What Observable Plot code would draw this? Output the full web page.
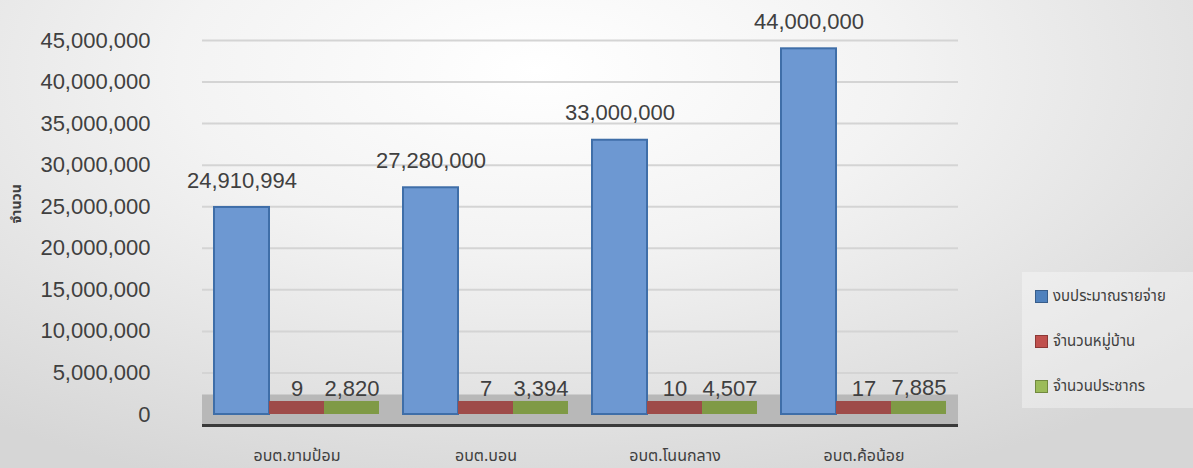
<!DOCTYPE html>
<html>
<head>
<meta charset="utf-8">
<script src="https://cdn.jsdelivr.net/npm/d3@7"></script>
<script src="https://cdn.jsdelivr.net/npm/@observablehq/plot@0.6"></script>
<style>
  html, body { margin: 0; padding: 0; }
  body {
    width: 1193px; height: 468px; overflow: hidden; position: relative;
    background: radial-gradient(ellipse 75% 95% at 45% 15%, #ffffff 0%, #f3f3f3 40%, #d6d6d6 100%);
    font-family: "Noto Sans Thai", "Liberation Sans", "DejaVu Sans", sans-serif;
  }
  #chart { position: absolute; left: 0; top: 0; }
  #legend {
    position: absolute; left: 1022px; top: 272px; width: 171px; height: 136px;
    background: rgba(255,255,255,0.35);
  }
  .item { position: absolute; left: 13px; display: flex; align-items: center; font-size: 15px; color: #404040; }
  .sw { width: 11px; height: 11px; margin-right: 5px; border: 1px solid; }
</style>
</head>
<body>
<div id="chart"></div>
<div id="legend"></div>
<script>
const categories = ["อบต.ขามป้อม", "อบต.บอน", "อบต.โนนกลาง", "อบต.ค้อน้อย"];
const seriesNames = ["งบประมาณรายจ่าย", "จำนวนหมู่บ้าน", "จำนวนประชากร"];
const budget = [24910994, 27280000, 33000000, 44000000];
const villages = [9, 7, 10, 17];
const population = [2820, 3394, 4507, 7885];
const yTicks = [0, 5000000, 10000000, 15000000, 20000000, 25000000, 30000000, 35000000, 40000000, 45000000];
const yTitle = "จำนวน";

const fills = ["#6d98d2", "#9e4b49", "#7f9a46"];
const strokes = ["#3f6ea8", "#8c3e3c", "#6f883a"];
const legendFills = ["#4f81bd", "#c0504d", "#9bbb59"];
const legendStrokes = ["#385d8a", "#8c3836", "#71893f"];

const seriesValues = [budget, villages, population];
const data = categories.flatMap((c, i) =>
  seriesNames.map((s, j) => ({cat: c, series: s, value: seriesValues[j][i]}))
);
const fmt = d3.format(",");
const isBudget = d => d.series === seriesNames[0];
const thaiFont = "'Noto Sans Thai', 'Liberation Sans', sans-serif";

const chart = Plot.plot({
  width: 1193,
  height: 468,
  marginLeft: 202,
  marginRight: 235,
  marginTop: 40,
  marginBottom: 54,
  style: {background: "transparent", fontFamily: "'Liberation Sans', 'Noto Sans Thai', sans-serif", fontSize: "22px", color: "#404040", overflow: "visible"},
  fx: {domain: categories, padding: 0},
  x: {domain: seriesNames, paddingInner: 0, paddingOuter: 0.218, axis: null},
  y: {domain: [0, 45000000]},
  color: {domain: seriesNames, range: fills},
  marks: [
    Plot.ruleY(yTicks, {stroke: "#d4d4d4", strokeWidth: 2}),
    Plot.ruleY([0], {stroke: "#b8b8b8", strokeWidth: 30, dy: -5}),
    Plot.ruleY([0], {stroke: "#3a3a3a", strokeWidth: 3, dy: 11}),
    Plot.axisY({ticks: yTicks, tickFormat: fmt, tickSize: 0, tickPadding: 52, label: null, fontSize: 22, fill: "#404040"}),
    Plot.axisFx({anchor: "bottom", tickSize: 0, tickPadding: 35, label: null, fontSize: 16, fill: "#404040", fontFamily: thaiFont}),
    Plot.text([yTitle], {fx: () => categories[0], frameAnchor: "left", dx: -186, dy: -4, rotate: -90, fontSize: 14, fontWeight: "bold", fill: "#404040", fontFamily: thaiFont}),
    Plot.barY(data, {filter: isBudget, fx: "cat", x: "series", y: "value", fill: "series", stroke: strokes[0], strokeWidth: 2}),
    Plot.barY(data, {filter: d => !isBudget(d), fx: "cat", x: "series", y: "value", fill: "series", insetTop: -13}),
    Plot.text(data, {filter: isBudget, fx: "cat", x: "series", y: "value", text: d => fmt(d.value), dy: -27, fontSize: 22, fill: "#404040"}),
    Plot.text(data, {filter: d => !isBudget(d), fx: "cat", x: "series", y: "value", text: d => fmt(d.value), dy: -26, fontSize: 22, fill: "#404040"})
  ]
});
document.getElementById("chart").append(chart);

const legend = document.getElementById("legend");
seriesNames.forEach((s, j) => {
  const item = document.createElement("div");
  item.className = "item";
  item.style.top = (13 + j * 45) + "px";
  const sw = document.createElement("span");
  sw.className = "sw";
  sw.style.background = legendFills[j];
  sw.style.borderColor = legendStrokes[j];
  const label = document.createElement("span");
  label.textContent = s;
  item.append(sw, label);
  legend.append(item);
});
</script>
</body>
</html>
